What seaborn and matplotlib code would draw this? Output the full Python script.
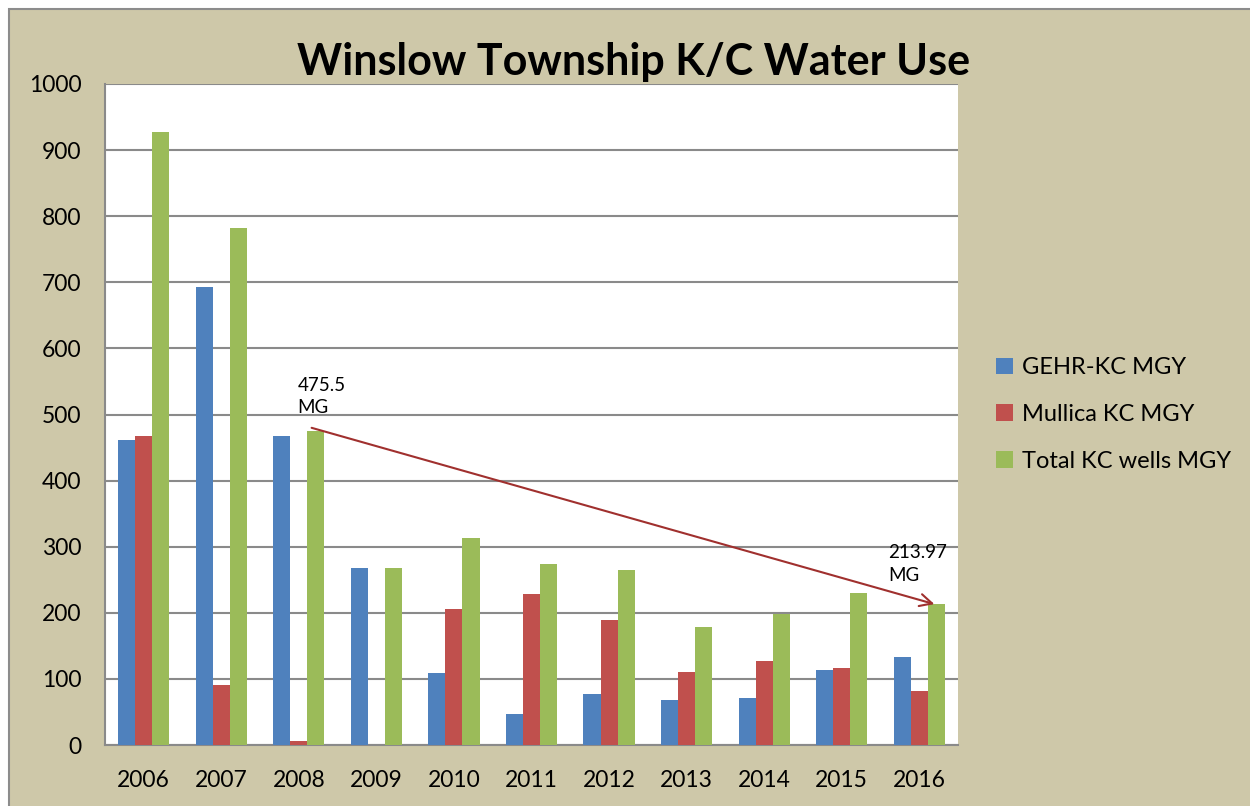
import numpy as np
import pandas as pd
import matplotlib
matplotlib.use("Agg")
import matplotlib.pyplot as plt
from matplotlib.patches import Rectangle
import seaborn as sns

# Data (million gallons per year)
years = ["2006", "2007", "2008", "2009", "2010", "2011", "2012", "2013", "2014", "2015", "2016"]
gehr = [461, 693, 467, 268, 109, 47, 77, 68, 71, 113, 133]
mullica = [467, 91, 6, 0, 206, 228, 189, 110, 127, 116, 82]
total = [927, 782, 475.5, 268, 313, 274, 265, 179, 198, 230, 213.97]
series_names = ["GEHR-KC MGY", "Mullica KC MGY", "Total KC wells MGY"]
colors = ["#4F81BD", "#C0504D", "#9BBB59"]

df = pd.DataFrame({"Year": years * 3,
                   "Series": np.repeat(series_names, len(years)),
                   "MGY": gehr + mullica + total})

sns.set_style("white")
plt.rcParams["font.family"] = ["Lato", "DejaVu Sans"]
plt.rcParams["text.color"] = "black"

fig = plt.figure(figsize=(12.5, 8.06), dpi=100)
fig.patch.set_facecolor("white")
# tan chart area with grey frame
fig.patches.append(Rectangle((9 / 1250, -0.01), 1.0, 1 - 9 / 806 + 0.01, transform=fig.transFigure,
                             facecolor="#CEC8A9", edgecolor="#8C8C8C", linewidth=1.5, zorder=-5))

ax = fig.add_axes([105 / 1250, 1 - 745 / 806, (958 - 105) / 1250, (745 - 84) / 806])
ax.set_zorder(2)
sns.barplot(data=df, x="Year", y="MGY", hue="Series", palette=colors, width=0.66,
            gap=0, saturation=1, linewidth=0, ax=ax, zorder=3)
ax.set_facecolor("white")
ax.set_ylim(0, 1000)
ax.set_xlim(-0.5, len(years) - 0.5)
ax.set_yticks(range(0, 1001, 100))
ax.yaxis.grid(True, color="#8A8A8A", linewidth=1.5, zorder=0)
ax.set_axisbelow(True)
ax.set_xlabel("")
ax.set_ylabel("")
for s in ["top", "right"]:
    ax.spines[s].set_visible(False)
for s in ["left", "bottom"]:
    ax.spines[s].set_color("#8A8A8A")
    ax.spines[s].set_linewidth(1.5)

ax.tick_params(axis="y", length=7, width=1.5, color="#8A8A8A", labelsize=16.5, pad=10,
               labelcolor="black")
ax.tick_params(axis="x", which="major", length=0, labelsize=16.5, pad=18, labelcolor="black")
ax.set_xticks(np.arange(len(years) + 1) - 0.5, minor=True)
ax.tick_params(axis="x", which="minor", length=7, width=1.5, color="#8A8A8A")

# trend arrow between 2008 and 2016 totals
ax.annotate("", xy=(10.23, 212), xytext=(2.13, 481),
            arrowprops=dict(arrowstyle="->", color="#A0302E", lw=1.5, mutation_scale=22))
ax.text(1.98, 557, "475.5\nMG", fontsize=13.5, va="top", ha="left", linespacing=1.4)
ax.text(9.6, 304, "213.97\nMG", fontsize=13.5, va="top", ha="left", linespacing=1.4)

fig.text(0.5065, 1 - 62 / 806, "Winslow Township K/C Water Use", fontsize=31,
         fontweight="bold", ha="center", va="center", color="black")

leg = ax.legend(loc="center left", bbox_to_anchor=(1.02, 0.5), frameon=False, fontsize=17,
                handlelength=0.7, handleheight=0.7, handletextpad=0.4, labelspacing=1.1)

fig.savefig("out.png", dpi=100, facecolor=fig.get_facecolor())
